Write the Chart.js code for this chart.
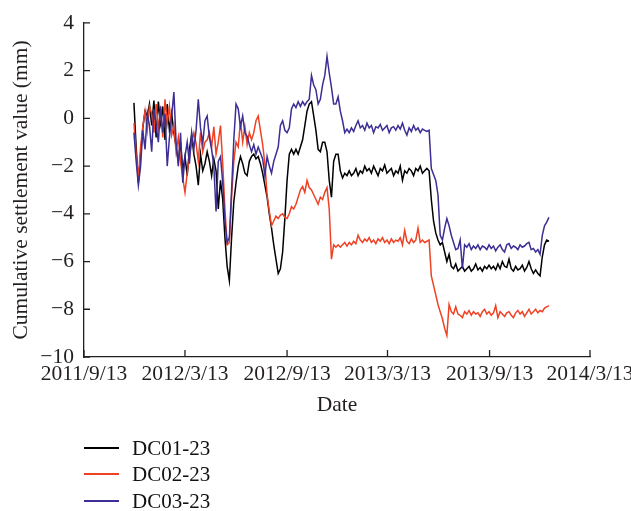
<!DOCTYPE html>
<html><head><meta charset="utf-8">
<script src="https://cdn.jsdelivr.net/npm/chart.js@4.4.0/dist/chart.umd.min.js"></script>
<style>
html,body{margin:0;padding:0;background:#fff;}
#wrap{position:relative;width:631px;height:511px;overflow:hidden;}
#c{position:absolute;left:0;top:0;}
.row{position:absolute;left:84px;height:24px;width:200px;font:21px "Liberation Serif","Times New Roman",serif;color:#111;}
.ln{position:absolute;left:0;top:11px;width:35px;height:2px;}
.tx{position:absolute;left:48px;top:0;line-height:24px;white-space:nowrap;}
</style></head><body>
<div id="wrap"><canvas id="c" width="631" height="511"></canvas><div id="legend"></div></div>
<script>
// x axis: days since 2011/9/13
const tickDays = [0, 182, 366, 547, 731, 912];
const tickLabels = ['2011/9/13', '2012/3/13', '2012/9/13', '2013/3/13', '2013/9/13', '2014/3/13'];
const seriesNames = ['DC01-23', 'DC02-23', 'DC03-23'];
const seriesColors = ['#000000', '#EF4123', '#3B2E94'];
// observations every 4 days starting at day 90 (2011/12/12)
const firstDay = 90;
const dayStep = 4;

const dc01 = [
 0.65,-1.2,-2.7,-1.5,-0.4,0.3,0.1,0.6,-0.3,0.75,
 -0.8,0.7,-0.2,0.5,-0.9,0.6,-0.5,0.2,-0.6,-1.2,
 -1.8,-1.0,-2.2,-1.6,-2.4,-1.3,-0.7,-1.5,-2.0,-2.8,
 -1.5,-2.2,-1.9,-1.4,-1.8,-2.4,-1.7,-2.2,-3.8,-2.6,
 -3.4,-5.0,-6.2,-6.8,-5.0,-3.5,-2.7,-2.0,-1.6,-1.9,
 -2.3,-2.4,-1.8,-1.6,-1.5,-1.7,-1.6,-1.9,-2.3,-2.8,
 -3.3,-4.0,-4.6,-5.3,-5.9,-6.5,-6.3,-5.6,-4.2,-2.6,
 -1.5,-1.3,-1.5,-1.3,-1.5,-1.2,-0.9,-0.3,0.3,0.6,
 0.7,0.1,-0.5,-1.3,-1.4,-1.0,-1.0,-1.4,-2.6,-3.3,
 -1.8,-1.5,-1.5,-2.2,-2.5,-2.3,-2.4,-2.2,-2.4,-2.3,
 -2.1,-2.4,-2.2,-2.3,-2.0,-2.2,-2.1,-2.3,-2.0,-2.2,
 -2.4,-2.1,-2.2,-1.95,-2.3,-2.2,-2.1,-2.4,-2.2,-2.3,
 -2.0,-2.6,-2.2,-2.3,-2.1,-2.2,-2.4,-2.1,-2.2,-2.0,
 -2.3,-2.2,-2.1,-2.2,-3.4,-4.3,-4.8,-5.1,-5.3,-5.2,
 -5.6,-6.0,-5.7,-6.2,-6.3,-6.1,-6.4,-6.3,-6.2,-6.4,
 -6.3,-6.2,-6.4,-6.3,-6.1,-6.35,-6.25,-6.4,-6.2,-6.3,
 -6.15,-6.3,-6.2,-6.35,-6.1,-6.3,-6.0,-6.2,-6.25,-5.9,
 -6.3,-6.4,-6.2,-6.35,-6.3,-6.15,-6.4,-6.25,-6.0,-6.3,
 -6.5,-6.35,-6.5,-6.6,-5.8,-5.3,-5.1,-5.15
];
const dc02 = [
 -0.2,-1.5,-2.5,-1.2,-0.35,0.3,-0.5,0.5,0.2,-0.6,
 0.6,-0.4,0.3,-0.8,0.8,-0.2,0.5,-0.7,-0.3,-1.4,
 -0.8,-1.8,-2.5,-3.1,-2.3,-1.6,-1.0,-0.6,-1.05,-1.8,
 -0.6,-1.4,-1.0,-0.9,-0.6,-1.2,-0.35,-1.5,-1.0,-0.3,
 -1.9,-3.8,-5.3,-5.2,-3.3,-1.8,-1.0,-1.2,-0.1,-1.0,
 -0.35,-1.1,-0.6,-0.9,-0.6,-0.1,0.1,-0.5,-1.1,-1.9,
 -3.2,-3.9,-4.5,-4.3,-4.1,-4.2,-4.05,-4.0,-4.15,-4.2,
 -4.0,-3.7,-3.8,-3.6,-3.3,-3.0,-2.85,-3.1,-2.6,-2.9,
 -3.0,-3.2,-3.4,-3.6,-3.3,-3.4,-3.1,-2.9,-3.8,-5.9,
 -5.3,-5.4,-5.3,-5.4,-5.3,-5.2,-5.35,-5.2,-5.3,-5.15,
 -5.25,-4.9,-5.1,-5.2,-5.05,-5.15,-5.0,-5.2,-5.1,-5.25,
 -5.05,-5.15,-5.0,-5.2,-5.1,-5.25,-5.05,-5.2,-5.1,-5.15,
 -5.0,-5.3,-4.7,-5.15,-5.25,-5.05,-5.2,-5.1,-4.6,-5.2,
 -5.1,-5.2,-5.15,-5.1,-6.6,-7.0,-7.4,-7.8,-8.1,-8.4,
 -8.8,-9.1,-7.8,-8.1,-8.2,-7.9,-8.2,-8.25,-8.35,-8.1,
 -8.2,-8.05,-8.25,-8.1,-8.2,-8.15,-8.3,-8.1,-8.0,-8.2,
 -8.1,-8.25,-8.15,-7.85,-8.35,-8.1,-8.2,-8.3,-8.15,-8.1,
 -8.25,-8.35,-8.15,-8.05,-8.2,-8.1,-8.3,-8.15,-8.0,-8.2,
 -8.1,-8.0,-8.15,-8.05,-8.1,-7.95,-7.9,-7.85
];
const dc03 = [
 -0.6,-1.8,-2.8,-2.0,-0.5,-1.3,0.2,-0.3,-1.4,0.4,
 -0.3,-1.0,0.5,-0.6,0.2,-2.0,-0.8,0.1,1.1,-1.0,
 -2.0,-0.6,-2.7,-1.6,-1.0,-1.9,-0.6,-1.3,-0.5,0.8,
 -0.4,-1.05,-0.1,0.1,-0.8,-1.3,-2.0,-3.9,-1.8,-1.6,
 -2.7,-4.3,-5.2,-5.0,-3.0,-0.9,0.6,0.4,-0.35,0.1,
 -0.6,-0.75,-1.1,-1.4,-1.1,-1.5,-1.2,-1.45,-1.7,-2.4,
 -1.6,-2.0,-2.3,-1.8,-1.5,-1.2,-0.3,-0.1,-0.5,-0.6,
 -0.4,0.4,0.6,0.45,0.7,0.5,0.7,0.55,0.7,0.8,
 1.8,1.4,1.2,0.6,0.8,1.4,1.8,2.6,1.9,1.3,
 0.6,0.6,0.9,0.3,-0.1,-0.6,-0.45,-0.6,-0.4,-0.55,
 -0.3,-0.1,-0.4,-0.3,-0.5,-0.2,-0.4,-0.3,-0.6,-0.35,
 -0.4,-0.25,-0.5,-0.4,-0.3,-0.6,-0.4,-0.35,-0.5,-0.3,
 -0.45,-0.2,-0.5,-0.7,-0.4,-0.55,-0.3,-0.5,-0.4,-0.6,
 -0.45,-0.5,-0.55,-0.5,-2.1,-2.35,-2.6,-3.2,-4.9,-5.1,
 -4.6,-4.2,-4.5,-4.9,-5.2,-5.5,-5.45,-5.1,-6.3,-5.3,
 -5.4,-5.25,-5.5,-5.35,-5.45,-5.3,-5.5,-5.35,-5.4,-5.5,
 -5.3,-5.45,-5.35,-5.55,-5.4,-5.3,-5.5,-5.6,-5.3,-5.25,
 -5.45,-5.35,-5.4,-5.5,-5.3,-5.4,-5.35,-5.25,-5.2,-5.5,
 -5.45,-5.6,-5.5,-5.7,-4.9,-4.5,-4.35,-4.15
];

const FONT = '"Liberation Serif", "Times New Roman", serif';
const FS = 21.5;
const INK = '#231f20';
const toPts = arr => arr.map((v, i) => ({x: firstDay + i * dayStep, y: v}));
const allSeries = [dc01, dc02, dc03];

const innerTicks = {
  id: 'innerTicks',
  afterDraw(chart) {
    const {ctx, chartArea: a, scales: {x, y}} = chart;
    ctx.save();
    ctx.strokeStyle = INK; ctx.lineWidth = 1.3;
    ctx.beginPath();
    x.ticks.forEach(t => { const px = x.getPixelForValue(t.value); ctx.moveTo(px, a.bottom); ctx.lineTo(px, a.bottom - 7); });
    y.ticks.forEach(t => { const py = y.getPixelForValue(t.value); ctx.moveTo(a.left, py); ctx.lineTo(a.left + 6, py); });
    ctx.stroke();
    ctx.restore();
  }
};

new Chart(document.getElementById('c'), {
  type: 'line',
  data: {
    datasets: allSeries.map((s, k) => ({
      label: seriesNames[k],
      data: toPts(s),
      borderColor: seriesColors[k],
      backgroundColor: seriesColors[k],
      borderWidth: 1.5,
      pointRadius: 0,
      tension: 0,
      fill: false,
      order: [2, 1, 0][k]
    }))
  },
  options: {
    responsive: false,
    animation: false,
    events: [],
    layout: {padding: {left: 0, right: 41, top: 17, bottom: 93}},
    plugins: {legend: {display: false}, tooltip: {enabled: false}},
    scales: {
      x: {
        type: 'linear', min: 0, max: 912,
        grid: {display: false, drawTicks: false},
        border: {display: true, color: INK, width: 1.3},
        afterBuildTicks: s => { s.ticks = tickDays.map(v => ({value: v})); },
        afterFit: s => { s.paddingLeft = 0; s.paddingRight = 0; s.height = 61; },
        ticks: {
          autoSkip: false, maxRotation: 0, minRotation: 0, padding: 4,
          color: INK, font: {family: FONT, size: FS},
          callback: v => { const k = tickDays.indexOf(v); return k >= 0 ? tickLabels[k] : ''; }
        },
        title: {display: true, text: 'Date', color: INK, font: {family: FONT, size: FS}, padding: {top: 0, bottom: 0}}
      },
      y: {
        min: -10, max: 4,
        grid: {display: false, drawTicks: false},
        border: {display: true, color: INK, width: 1.3},
        afterFit: s => { s.width = 84; },
        ticks: {
          stepSize: 2, padding: 10, color: INK, font: {family: FONT, size: FS},
          callback: v => v < 0 ? '\u2212' + Math.abs(v) : String(v)
        },
        title: {display: true, text: 'Cumulative settlement value (mm)', color: INK, font: {family: FONT, size: FS}, padding: {top: 8, bottom: 0}}
      }
    }
  },
  plugins: [innerTicks]
});

// legend (vertical list below the chart)
const rowTops = [436, 462, 489];
const leg = document.getElementById('legend');
seriesNames.forEach((n, k) => {
  const r = document.createElement('div');
  r.className = 'row'; r.style.top = rowTops[k] + 'px';
  const l = document.createElement('span'); l.className = 'ln'; l.style.background = seriesColors[k];
  const t = document.createElement('span'); t.className = 'tx'; t.textContent = n;
  r.appendChild(l); r.appendChild(t); leg.appendChild(r);
});
</script>
</body></html>
